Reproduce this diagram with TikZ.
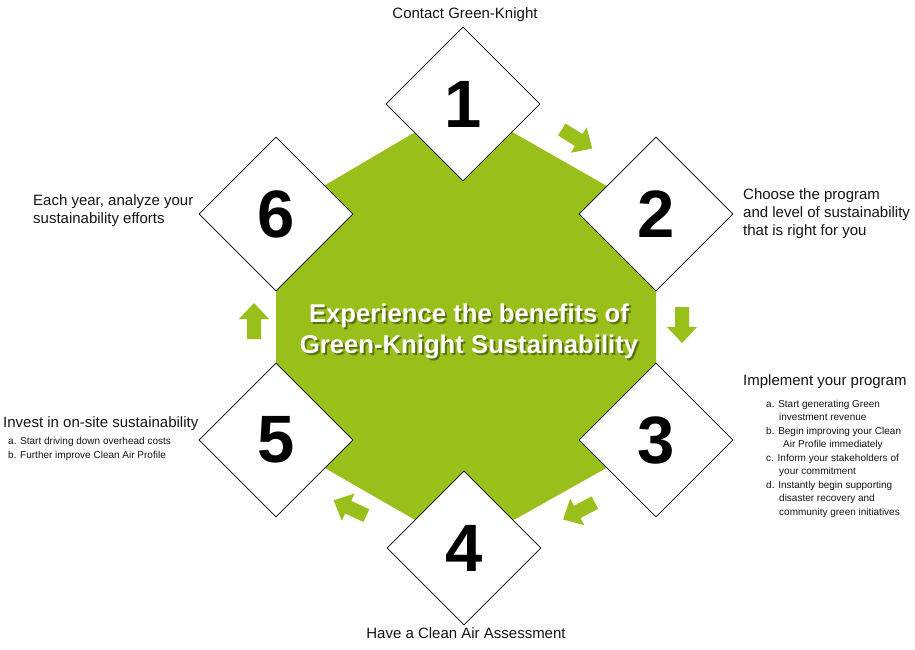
\documentclass[tikz,border=0pt]{standalone}
\usepackage{fontspec}
\setmainfont{Liberation Sans}
\usetikzlibrary{shapes.geometric}
\definecolor{gk}{RGB}{153,192,26}
\definecolor{txt}{RGB}{20,20,20}
\newcommand\gkarrow[3]{\fill[gk, shift={(#1,#2)}, rotate=#3] (-18,-7) -- (2,-7) -- (2,-15) -- (18,0) -- (2,15) -- (2,7) -- (-18,7) -- cycle;}
\begin{document}
\begin{tikzpicture}[x=1pt,y=-1pt,
  stepdia/.style={diamond, draw=black, line width=0.8pt, fill=white, minimum width=154, minimum height=154, inner sep=0pt, font=\fontsize{67}{67}\selectfont\bfseries},
  headtxt/.style={inner sep=0pt, text=txt, font=\fontsize{15}{18}\selectfont, align=left},
  subtxt/.style={inner sep=0pt, text=txt, font=\fontsize{10}{13.5}\selectfont, align=left},
  centertxt/.style={inner sep=0pt, font=\fontsize{25.7}{31}\selectfont\bfseries, align=center}]
\useasboundingbox (0,0) rectangle (915,650);
\fill[white] (0,0) rectangle (915,650);
% centres
\coordinate (c1) at (463,104);
\coordinate (c2) at (656,214);
\coordinate (c3) at (656,440);
\coordinate (c4) at (464,548);
\coordinate (c5) at (276,440);
\coordinate (c6) at (276,214);
% green hexagon
\fill[gk] (c1) -- (c2) -- (c3) -- (c4) -- (c5) -- (c6) -- cycle;
% diamonds
\node[stepdia] (d1) at (c1) {1};
\node[stepdia] (d2) at (c2) {2};
\node[stepdia] (d3) at (c3) {3};
\node[stepdia] (d4) at (c4) {4};
\node[stepdia] (d5) at (c5) {5};
\node[stepdia] (d6) at (c6) {6};
% arrows
\gkarrow{577}{139}{-32}
\gkarrow{682}{325}{-90}
\gkarrow{579}{511}{-152}
\gkarrow{350}{508}{155}
\gkarrow{254}{321}{90}
% centre text (base anchor = last line)
\node[centertxt, text=black, opacity=0.4, anchor=base] (ctshadow) at (471,355) {Experience the benefits of\\Green-Knight Sustainability};
\node[centertxt, text=white, anchor=base] (ct) at (469,353) {Experience the benefits of\\Green-Knight Sustainability};
% labels
\node[headtxt, anchor=base] (l1) at (465,19) {Contact Green-Knight};
\node[headtxt, anchor=base west] (l2) at (743,235) {Choose the program\\and level of sustainability\\that is right for you};
\node[headtxt, anchor=base west] (l3) at (743,385) {Implement your program};
\node[subtxt, anchor=base west] (l3s) at (766,515) {a. Start generating Green\\\hspace*{13pt}investment revenue\\b. Begin improving your Clean\\\hspace*{17pt}Air Profile immediately\\c. Inform your stakeholders of\\\hspace*{13pt}your commitment\\d. Instantly begin supporting\\\hspace*{13pt}disaster recovery and\\\hspace*{13pt}community green initiatives};
\node[headtxt, anchor=base] (l4) at (466,638) {Have a Clean Air Assessment};
\node[headtxt, anchor=base west] (l5) at (3,427) {Invest in on-site sustainability};
\node[subtxt, anchor=base west] (l5s) at (8,458) {a. Start driving down overhead costs\\b. Further improve Clean Air Profile};
\node[headtxt, anchor=base west] (l6) at (33,223) {Each year, analyze your\\sustainability efforts};
\end{tikzpicture}
\end{document}
